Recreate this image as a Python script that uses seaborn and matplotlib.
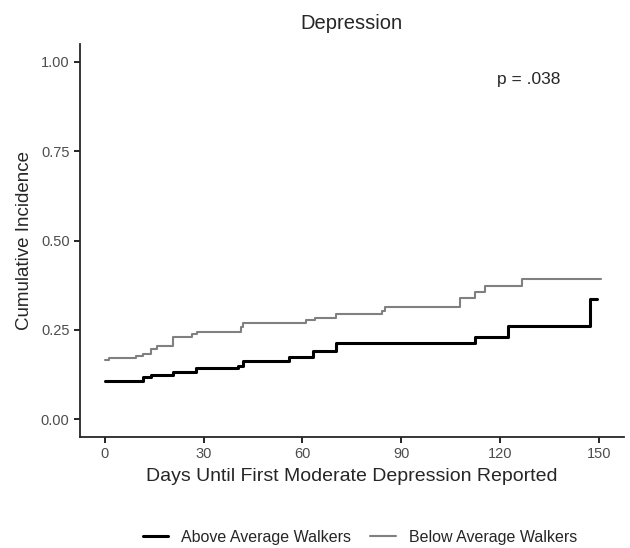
import matplotlib.pyplot as plt
import pandas as pd
import seaborn as sns

# step times (days) and cumulative incidence
above_days = [0, 11.7, 13.9, 20.7, 27.8, 40.3, 42.1, 56, 63.1, 70.2, 112.3, 122.4, 147.4, 149.3]
above_inc = [0.108, 0.117, 0.124, 0.131, 0.142, 0.149, 0.164, 0.173, 0.191, 0.213, 0.231, 0.261, 0.335, 0.335]

below_days = [0, 1.4, 9.6, 11.7, 13.9, 15.9, 20.7, 26.6, 28.1, 41.5, 42.1, 61, 63.9, 70.2,
              84.2, 85.1, 107.9, 112.3, 115.5, 126.5, 150.5]
below_inc = [0.165, 0.172, 0.178, 0.183, 0.196, 0.205, 0.231, 0.237, 0.244, 0.259, 0.270, 0.277,
             0.284, 0.294, 0.303, 0.315, 0.340, 0.356, 0.372, 0.391, 0.391]

groups = ["Above Average Walkers", "Below Average Walkers"]
x_ticks = [0, 30, 60, 90, 120, 150]
y_ticks = [0.0, 0.25, 0.5, 0.75, 1.0]

df = pd.concat([
    pd.DataFrame({"days": above_days, "inc": above_inc, "group": groups[0]}),
    pd.DataFrame({"days": below_days, "inc": below_inc, "group": groups[1]}),
], ignore_index=True)

sns.set_style("ticks")
plt.rcParams['font.family'] = ['Liberation Sans', 'DejaVu Sans']

fig = plt.figure(figsize=(6.3, 5.48), dpi=100)
ax = fig.add_axes([0.127, 0.2026, 0.863, 0.717])

sns.lineplot(data=df, x="days", y="inc", hue="group", hue_order=groups,
             palette=["black", "#808080"], drawstyle="steps-post",
             estimator=None, ax=ax, legend=False)
ax.lines[0].set_linewidth(2.2)
ax.lines[1].set_linewidth(1.5)

ax.set_xlim(-7.5, 157.5)
ax.set_ylim(-0.05, 1.05)
ax.set_xticks(x_ticks)
ax.set_xticklabels([str(t) for t in x_ticks])
ax.set_yticks(y_ticks)
ax.set_yticklabels([f"{t:.2f}" for t in y_ticks])
ax.tick_params(colors="black", labelcolor="#4d4d4d", labelsize=10.5, length=4, width=1.2)
for s in ["left", "bottom"]:
    ax.spines[s].set_linewidth(1.3)
sns.despine(ax=ax)

ax.set_xlabel("Days Until First Moderate Depression Reported", fontsize=14, labelpad=5)
ax.set_ylabel("Cumulative Incidence", fontsize=13.5, labelpad=6)
ax.set_title("Depression", fontsize=14.5, pad=11)
ax.text(118.9, 0.952, "p = .038", fontsize=12.5, va="center", ha="left")

# legend at the bottom
handles = [plt.Line2D([], [], color="black", lw=2.2), plt.Line2D([], [], color="#808080", lw=1.5)]
fig.legend(handles, groups, loc="center", bbox_to_anchor=(0.571, 0.02), ncol=2, frameon=False,
           fontsize=11.5, handlelength=1.6, handletextpad=0.8, columnspacing=1.2)

fig.savefig("out.png", dpi=100)
